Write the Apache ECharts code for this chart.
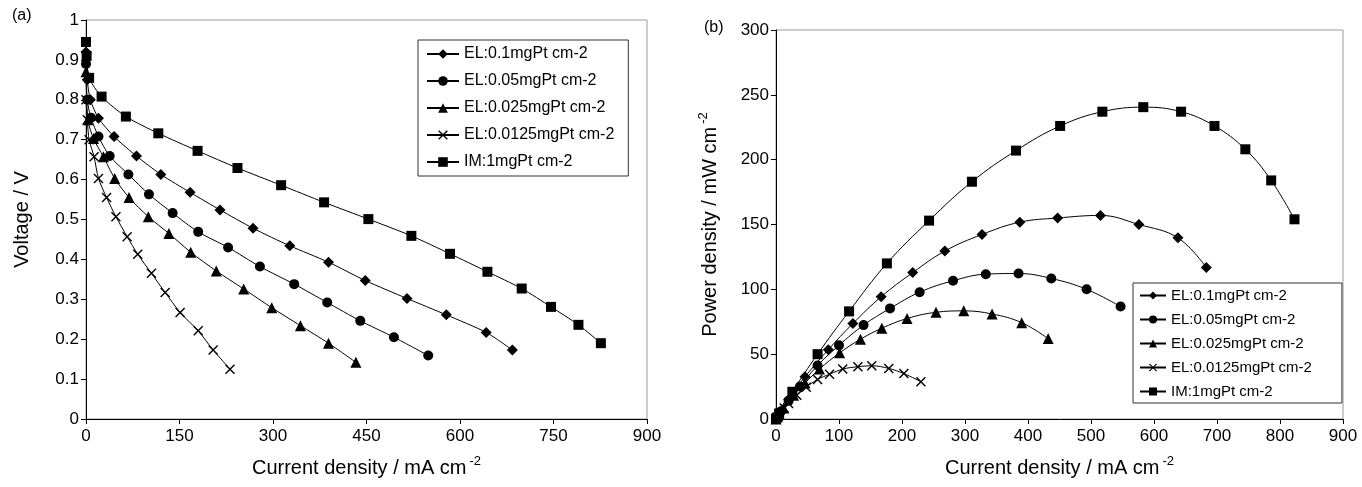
<!DOCTYPE html>
<html>
<head>
<meta charset="utf-8">
<title>Polarization and power density curves</title>
<script src="https://cdn.jsdelivr.net/npm/echarts@6/dist/echarts.min.js"></script>
<style>
	html,body{margin:0;padding:0;background:#fff;}
	#main{width:1362px;height:487px;}
</style>
</head>
<body>
<div id="main"></div>
<script>
// series names (legend)
var names = ['EL:0.1mgPt cm-2','EL:0.05mgPt cm-2','EL:0.025mgPt cm-2','EL:0.0125mgPt cm-2','IM:1mgPt cm-2'];

/***
 * (a) voltage vs current density
 */
var vCur01 = [0,2,7,20,45,81,120,167,215,268,327,389,448,515,578,642,684];
var vVolt01 = [0.92,0.85,0.80,0.754,0.708,0.659,0.613,0.568,0.524,0.478,0.434,0.393,0.347,0.302,0.261,0.217,0.173];
var vCur005 = [0,2,8,20,38,68,101,139,180,228,279,334,387,440,494,549];
var vVolt005 = [0.89,0.80,0.755,0.708,0.659,0.613,0.563,0.516,0.469,0.430,0.382,0.338,0.292,0.246,0.205,0.159];
var vCur0025 = [0,3,12,28,46,69,100,133,168,209,253,298,344,389,433];
var vVolt0025 = [0.87,0.75,0.703,0.657,0.603,0.555,0.507,0.465,0.418,0.371,0.326,0.279,0.234,0.190,0.142];
var vCur00125 = [0,2,5,13,20,33,48,66,83,105,127,151,180,204,231];
var vVolt00125 = [0.80,0.75,0.70,0.657,0.603,0.555,0.507,0.457,0.413,0.365,0.317,0.267,0.221,0.173,0.125];
var vCurIM = [0,1,5,25,64,116,179,243,313,382,453,522,584,644,699,746,790,826];
var vVoltIM = [0.945,0.91,0.855,0.808,0.758,0.716,0.672,0.629,0.586,0.543,0.501,0.459,0.414,0.369,0.327,0.281,0.236,0.190];

/***
 * (b) power density vs current density
 */
var pCur01 = [0,2,7,20,46,83,122,167,217,268,327,387,447,515,576,638,683];
var pPow01 = [0,1.7,5.6,15,32.5,53.5,73.6,94.3,112.9,129.5,142.3,151.8,155,157,150,139.7,116.8];
var pCur005 = [0,2,8,20,38,66,100,139,181,228,281,333,385,437,493,547];
var pPow005 = [0,1.6,6,14,25,41.3,56.8,72.4,85.3,97.8,106.6,111.7,112.2,108.4,100,86.7];
var pCur0025 = [0,3,12,28,46,69,101,134,168,208,254,298,343,390,432];
var pPow0025 = [0,2.3,8.4,18.4,27.7,38.5,51,61.5,70,77.5,82.3,83.4,81,74.3,62];
var pCur00125 = [0,2,5,13,20,33,48,66,85,106,130,152,179,203,230];
var pPow00125 = [0,1.5,3.5,8.5,12,18.3,24.5,30.5,34.5,38.5,40.3,41,39,35,28.8];
var pCurIM = [0,1,5,26,66,116,176,243,311,381,451,518,583,643,696,745,786,823];
var pPowIM = [0,0.9,4.3,21,50,83,120,153,183,207,226,237,240.5,237,226,208,184,154];

var _font = 'Liberation Sans, Arial, sans-serif';
var crossPath = 'path://M1,0L5,4L9,0L10,1L6,5L10,9L9,10L5,6L1,10L0,9L4,5L0,1Z';
var symbols = ['diamond','circle','triangle',crossPath,'rect'];
var symbolSizes = [11,10,11,10,10];

function pairs(xs, ys){
	var out = [];
	for(var i=0;i<xs.length;i++){
		out.push([xs[i], ys[i]]);
	}
	return out;
}

function makeSeries(idx, xs, ys, gi, smooth){
	return {
		name: names[idx],
		type: 'line',
		xAxisIndex: gi,
		yAxisIndex: gi,
		data: pairs(xs, ys),
		smooth: smooth,
		symbol: symbols[idx],
		symbolSize: symbolSizes[idx],
		showAllSymbol: true,
		lineStyle: {color: '#000', width: 1},
		itemStyle: {color: '#000'}
	};
}

var nameRich = {
	a: {fontSize: 20, fontFamily: _font, color: '#000'},
	s: {fontSize: 13, fontFamily: _font, color: '#000', padding: [0,0,14,3]}
};

function xAxisOf(gi, interval){
	return {
		type: 'value', gridIndex: gi, min: 0, max: 900, interval: interval,
		name: '{a|Current density / mA cm}{s|-2}',
		nameLocation: 'middle', nameGap: 36,
		nameTextStyle: {rich: nameRich},
		axisLine: {lineStyle: {color: '#000', width: 1}},
		axisTick: {show: true, length: 5, lineStyle: {color: '#000'}},
		axisLabel: {fontSize: 17, fontFamily: _font, color: '#000', margin: 9},
		splitLine: {show: false}
	};
}

var chart = echarts.init(document.getElementById('main'));
var option = {
	animation: false,
	backgroundColor: '#fff',
	textStyle: {fontFamily: _font},
	graphic: [
		{type: 'text', left: 12, top: 8, style: {text: '(a)', fontSize: 16, fontFamily: _font, fill: '#000'}},
		{type: 'text', left: 704, top: 20, style: {text: '(b)', fontSize: 16, fontFamily: _font, fill: '#000'}}
	],
	grid: [
		{left: 86, top: 20, width: 561, height: 399, show: true, borderColor: '#999', borderWidth: 1},
		{left: 776, top: 30, width: 567, height: 389, show: true, borderColor: '#999', borderWidth: 1}
	],
	legend: [
		{
			data: names, orient: 'vertical', left: 418, top: 40,
			itemWidth: 32, itemHeight: 12, itemGap: 11, padding: [6,14,6,8],
			borderColor: '#333', borderWidth: 1, backgroundColor: '#fff',
			textStyle: {fontSize: 16, fontFamily: _font, color: '#000'}
		},
		{
			data: names, orient: 'vertical', left: 1133, top: 283,
			itemWidth: 26, itemHeight: 10, itemGap: 9, padding: [5,30,4,6],
			borderColor: '#333', borderWidth: 1, backgroundColor: '#fff',
			textStyle: {fontSize: 15, fontFamily: _font, color: '#000'}
		}
	],
	xAxis: [xAxisOf(0, 150), xAxisOf(1, 100)],
	yAxis: [
		{
			type: 'value', gridIndex: 0, min: 0, max: 1, interval: 0.1,
			name: 'Voltage / V', nameLocation: 'middle', nameGap: 54,
			nameTextStyle: {fontSize: 20, fontFamily: _font, color: '#000'},
			axisLine: {show: true, lineStyle: {color: '#000', width: 1}},
			axisTick: {show: true, length: 5, lineStyle: {color: '#000'}},
			axisLabel: {fontSize: 17, fontFamily: _font, color: '#000', margin: 7},
			splitLine: {show: false}
		},
		{
			type: 'value', gridIndex: 1, min: 0, max: 300, interval: 50,
			name: '{a|Power density / mW cm}{s|-2}', nameLocation: 'middle', nameGap: 52,
			nameTextStyle: {rich: nameRich},
			axisLine: {show: true, lineStyle: {color: '#000', width: 1}},
			axisTick: {show: true, length: 5, lineStyle: {color: '#000'}},
			axisLabel: {fontSize: 17, fontFamily: _font, color: '#000', margin: 7},
			splitLine: {show: false}
		}
	],
	series: [
		makeSeries(0, vCur01, vVolt01, 0, 0.25),
		makeSeries(1, vCur005, vVolt005, 0, 0.25),
		makeSeries(2, vCur0025, vVolt0025, 0, 0.25),
		makeSeries(3, vCur00125, vVolt00125, 0, 0.25),
		makeSeries(4, vCurIM, vVoltIM, 0, 0.25),
		makeSeries(0, pCur01, pPow01, 1, 0.4),
		makeSeries(1, pCur005, pPow005, 1, 0.4),
		makeSeries(2, pCur0025, pPow0025, 1, 0.4),
		makeSeries(3, pCur00125, pPow00125, 1, 0.4),
		makeSeries(4, pCurIM, pPowIM, 1, 0.4)
	]
};
chart.setOption(option);
</script>
</body>
</html>
